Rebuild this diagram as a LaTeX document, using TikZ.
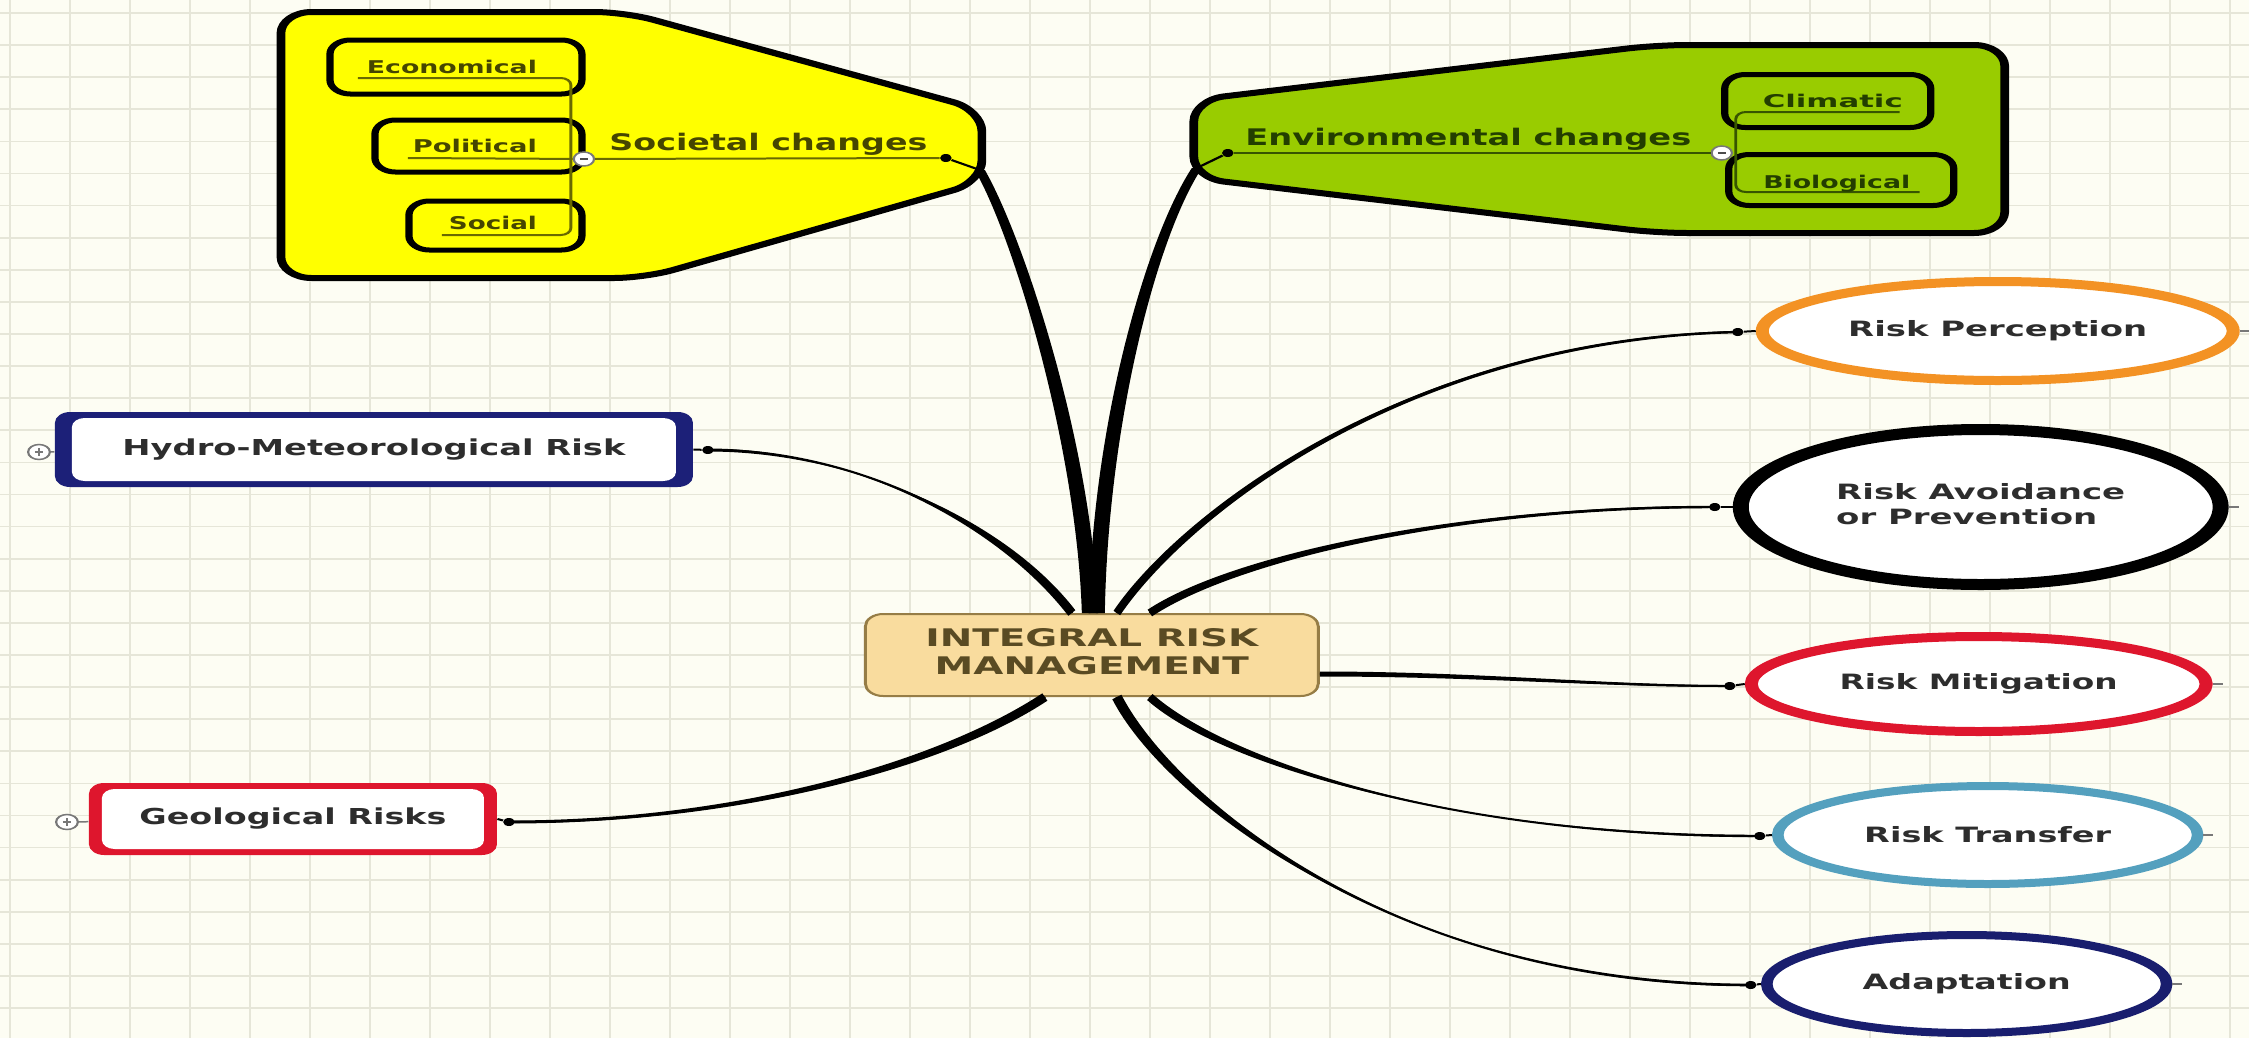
\documentclass[tikz,border=0pt]{standalone}
\usepackage{fontspec}
\setmainfont{DejaVu Sans}
\usepackage{graphicx}
\usetikzlibrary{shapes.geometric,calc}

% horizontal unit inside the stretched canvas, and helpers for sizes given in px
\newlength\pxu
\setlength\pxu{0.0137931cm}
\newcommand\hx[1]{#1*0.0137931cm}
\newcommand\vy[1]{#1*0.02cm}
% stretch a label to a width (px), keeping its height
\newcommand\fitw[2]{\resizebox{#1\pxu}{\height}{#2}}
% tapered branch: base, control 1, control 2, end, half-width at base, half-width at end
\newcommand\limb[6]{%
  \fill ($(#1)+#5$) .. controls ($(#2)+#5$) and ($(#3)+#6$) .. ($(#4)+#6$)
    -- ($(#4)-#6$) .. controls ($(#3)-#6$) and ($(#2)-#5$) .. ($(#1)-#5$) -- cycle;
  \draw[line width=0.04cm] (#1) .. controls (#2) and (#3) .. (#4);}

\definecolor{paper}{RGB}{253,253,243}
\definecolor{gridc}{RGB}{230,230,216}
\definecolor{yel}{RGB}{255,255,0}
\definecolor{grn}{RGB}{153,204,0}
\definecolor{core}{RGB}{249,220,158}
\definecolor{coreb}{RGB}{150,125,70}
\definecolor{coret}{RGB}{90,75,35}
\definecolor{navy}{RGB}{28,32,120}
\definecolor{rred}{RGB}{222,22,45}
\definecolor{orng}{RGB}{243,146,36}
\definecolor{tblue}{RGB}{84,160,190}
\definecolor{adnavy}{RGB}{25,30,110}
\definecolor{labc}{RGB}{45,45,45}
\definecolor{olivt}{RGB}{70,70,0}
\definecolor{olivl}{RGB}{105,105,0}
\definecolor{grnt}{RGB}{35,62,0}
\definecolor{grnl}{RGB}{55,85,0}
\definecolor{markgray}{RGB}{120,120,120}

\tikzset{
  enddot/.style={circle, fill=black, inner sep=0pt, minimum size={\vy{8}}},
  link/.style={line width=0.04cm},
  minusmark/.style={circle, draw=markgray, fill=white, line width=0.03cm, inner sep=0pt,
    minimum size={\vy{14}},
    path picture={\draw[line width=0.035cm, black!70]
      ($(path picture bounding box.center)+(-4,0)$) -- ($(path picture bounding box.center)+(4,0)$);}},
  plusmark/.style={circle, draw=markgray, fill=white, line width=0.03cm, inner sep=0pt,
    minimum size={\vy{15}},
    path picture={\draw[line width=0.03cm, markgray]
      ($(path picture bounding box.center)+(-4,0)$) -- ($(path picture bounding box.center)+(4,0)$)
      ($(path picture bounding box.center)+(0,-4)$) -- ($(path picture bounding box.center)+(0,4)$);}},
  corenode/.style={rectangle, rounded corners=7pt, fill=core, draw=coreb, line width=0.04cm,
    minimum width={\hx{453}}, minimum height={\vy{82}}, inner sep=0pt, text=coret,
    font=\fontsize{13.8}{16}\selectfont\bfseries},
  sidebox/.style 2 args={rectangle, rounded corners=6pt, fill=#1, inner sep=0pt, text=labc,
    font=\fontsize{12.5}{15}\selectfont\bfseries,
    path picture={\fill[white, rounded corners=5pt]
      ($(path picture bounding box.north west)+(#2,6)$) rectangle
      ($(path picture bounding box.south east)+(-#2,-6)$);}},
  oval/.style={ellipse, draw=#1, fill=white, inner sep=0pt, text=labc,
    font=\fontsize{12}{14.2}\selectfont\bfseries},
  subbox/.style={draw=black, line width=0.1cm, rounded corners=8pt},
  sublab/.style={anchor=base, inner sep=0pt, text=#1, font=\fontsize{10}{12}\selectfont\bfseries},
  grouplab/.style={anchor=base west, inner sep=0pt, text=#1, font=\fontsize{13}{15}\selectfont\bfseries},
  stem/.style={draw=#1, line width=0.04cm, rounded corners=4pt},
  tick/.style={draw=markgray, line width=0.03cm}
}

\begin{document}
\begin{tikzpicture}[x=0.02cm,y=-0.02cm]
\useasboundingbox (0,0) rectangle (2249,1038);
% squared paper
\fill[paper] (0,0) rectangle (2249,1038);
\foreach \k in {0,...,37} \draw[gridc, line width=0.05cm] ({10+60*\k},0) -- ({10+60*\k},1038);
\foreach \k in {0,...,31} \draw[gridc, line width=0.035cm] (0,{13+32.1*\k}) -- (2249,{13+32.1*\k});

\begin{scope}[x=0.0137931cm, y=-0.02cm, transform canvas={xscale=1.45}]

% ---- Societal changes group
\draw[line width=0.12cm, fill=yel, rounded corners=12pt]
  (281,12) -- (625,12) -- (982,110) -- (982,182) -- (645,278) -- (281,278) -- cycle;
\coordinate (socTip) at (980,170);
\draw[subbox] (330,40) rectangle (582,94);
\draw[subbox] (375,120) rectangle (582,172);
\draw[subbox] (409,201) rectangle (582,250);
\node[minusmark] (socC) at (584,159) {};
\node[enddot] (socDot) at (946,158) {};
\coordinate (ecoU) at (358,78);
\coordinate (polU) at (408,158);
\coordinate (solU) at (442,235);
\draw[stem=olivl] (ecoU) -- (571,78) -- (571,235) -- (solU);
\draw[stem=olivl] (polU) -- (socC);
\draw[stem=olivl] (socC) -- (socDot);
\node[sublab=olivt] (eco) at (452,73) {\fitw{170}{Economical}};
\node[sublab=olivt] (pol) at (475,152) {\fitw{124}{Political}};
\node[sublab=olivt] (socl) at (493,229) {\fitw{88}{Social}};
\node[grouplab=olivt] (soc) at (609,150) {\fitw{318}{Societal changes}};
\draw[link] (socDot) -- (socTip);

% ---- Environmental changes group
\draw[line width=0.12cm, fill=grn, rounded corners=12pt]
  (1194,100) -- (1657,45) -- (2005,45) -- (2005,233) -- (1657,233) -- (1194,178) -- cycle;
\coordinate (envTip) at (1197,168);
\draw[subbox] (1725,74.5) rectangle (1931,127.5);
\draw[subbox] (1729,154.5) rectangle (1954,205.5);
\node[minusmark] (envC) at (1722,153) {};
\node[enddot] (envDot) at (1228,153) {};
\coordinate (cliU) at (1900,112);
\coordinate (bioU) at (1920,192);
\draw[stem=grnl] (cliU) -- (1736,112) -- (1736,192) -- (bioU);
\draw[stem=grnl] (envDot) -- (envC);
\node[sublab=grnt] (cli) at (1833,107) {\fitw{140}{Climatic}};
\node[sublab=grnt] (bio) at (1837,188) {\fitw{147}{Biological}};
\node[grouplab=grnt] (env) at (1245,145) {\fitw{446}{Environmental changes}};
\draw[link] (envDot) -- (envTip);

% ---- central topic
\node[corenode] (irm) at (1092,655)
  {\fitw{333}{\begin{tabular}{@{}c@{}}INTEGRAL RISK\\MANAGEMENT\end{tabular}}};

% ---- risk types
\node[sidebox={navy}{17}, minimum width={\hx{638}}, minimum height={\vy{75}}] (hyd) at (374,449.5)
  {\fitw{503}{Hydro-Meteorological Risk}};
\node[sidebox={rred}{13}, minimum width={\hx{408}}, minimum height={\vy{72}}] (geo) at (293,819)
  {\fitw{307}{Geological Risks}};
\node[plusmark] (hydX) at (39,452) {};
\node[plusmark] (geoX) at (67,822) {};
\draw[tick] (hydX) -- (hyd);
\draw[tick] (geoX) -- (geo);

% ---- risk management stages
\node[oval=orng, line width=0.18cm, minimum width={\hx{471}}, minimum height={\vy{99}}] (per) at (1998,331)
  {\fitw{299}{Risk Perception}};
\node[oval=black, line width=0.22cm, minimum width={\hx{480}}, minimum height={\vy{155}}] (avo) at (1981,507)
  {\fitw{289}{\begin{tabular}{@{}l@{}}Risk Avoidance\\or Prevention\end{tabular}}};
\node[oval=rred, line width=0.18cm, minimum width={\hx{455}}, minimum height={\vy{95}}] (mit) at (1979,684)
  {\fitw{278}{Risk Mitigation}};
\node[oval=tblue, line width=0.16cm, minimum width={\hx{420}}, minimum height={\vy{98}}] (tra) at (1988,835)
  {\fitw{247}{Risk Transfer}};
\node[oval=adnavy, line width=0.16cm, minimum width={\hx{400}}, minimum height={\vy{98}}] (ada) at (1967,984)
  {\fitw{208}{Adaptation}};
\foreach \n in {per,avo,mit,tra,ada} \draw[tick] (\n.east) -- ++(10,0);

% ---- branch end dots
\node[enddot] (dHyd) at (708,450) {};
\node[enddot] (dGeo) at (509,822) {};
\node[enddot] (dPer) at (1738,332) {};
\node[enddot] (dAvo) at (1715,507) {};
\node[enddot] (dMit) at (1730,686) {};
\node[enddot] (dTra) at (1760,836) {};
\node[enddot] (dAda) at (1751,985) {};
\draw[link] (dHyd) -- (hyd.east);
\draw[link] (dGeo) -- (geo.east);
\draw[link] (dPer) -- (per.west);
\draw[link] (dAvo) -- (avo.west);
\draw[link] (dMit) -- (mit.west);
\draw[link] (dTra) -- (tra.west);
\draw[link] (dAda) -- (ada.west);

% ---- tapered branches from the central topic
\coordinate (bSoc) at ($(irm.north)+(-2,0)$);
\coordinate (bEnv) at ($(irm.north)+(5,0)$);
\coordinate (bHyd) at ($(irm.north)+(-20,0)$);
\coordinate (bPer) at ($(irm.north)+(25,0)$);
\coordinate (bAvo) at ($(irm.north)+(58,0)$);
\coordinate (bMit) at ($(irm.east)+(0,19)$);
\coordinate (bTra) at ($(irm.south)+(58,0)$);
\coordinate (bAda) at ($(irm.south)+(25,0)$);
\coordinate (bGeo) at ($(irm.south)+(-47,0)$);
\limb{bSoc}{1085,450}{1020,240}{socTip}{(8,0)}{(5,0)}
\limb{bEnv}{1100,430}{1150,240}{envTip}{(8,0)}{(5,0)}
\limb{bHyd}{1000,520}{850,450}{dHyd}{(3.5,-2.8)}{(0,1.5)}
\limb{bGeo}{950,760}{750,822}{dGeo}{(2.5,3.7)}{(0,1.5)}
\limb{bPer}{1180,520}{1400,340}{dPer}{(3.3,2.2)}{(0,1.2)}
\limb{bAvo}{1230,560}{1450,507}{dAvo}{(2.2,3.3)}{(0,1.2)}
\limb{bMit}{1480,674}{1600,686}{dMit}{(0,2.5)}{(0,1)}
\limb{bTra}{1220,760}{1450,836}{dTra}{(2.7,-3)}{(0,1.2)}
\limb{bAda}{1170,800}{1400,985}{dAda}{(4.5,-2.3)}{(0,1.3)}

\end{scope}
\end{tikzpicture}
\end{document}
